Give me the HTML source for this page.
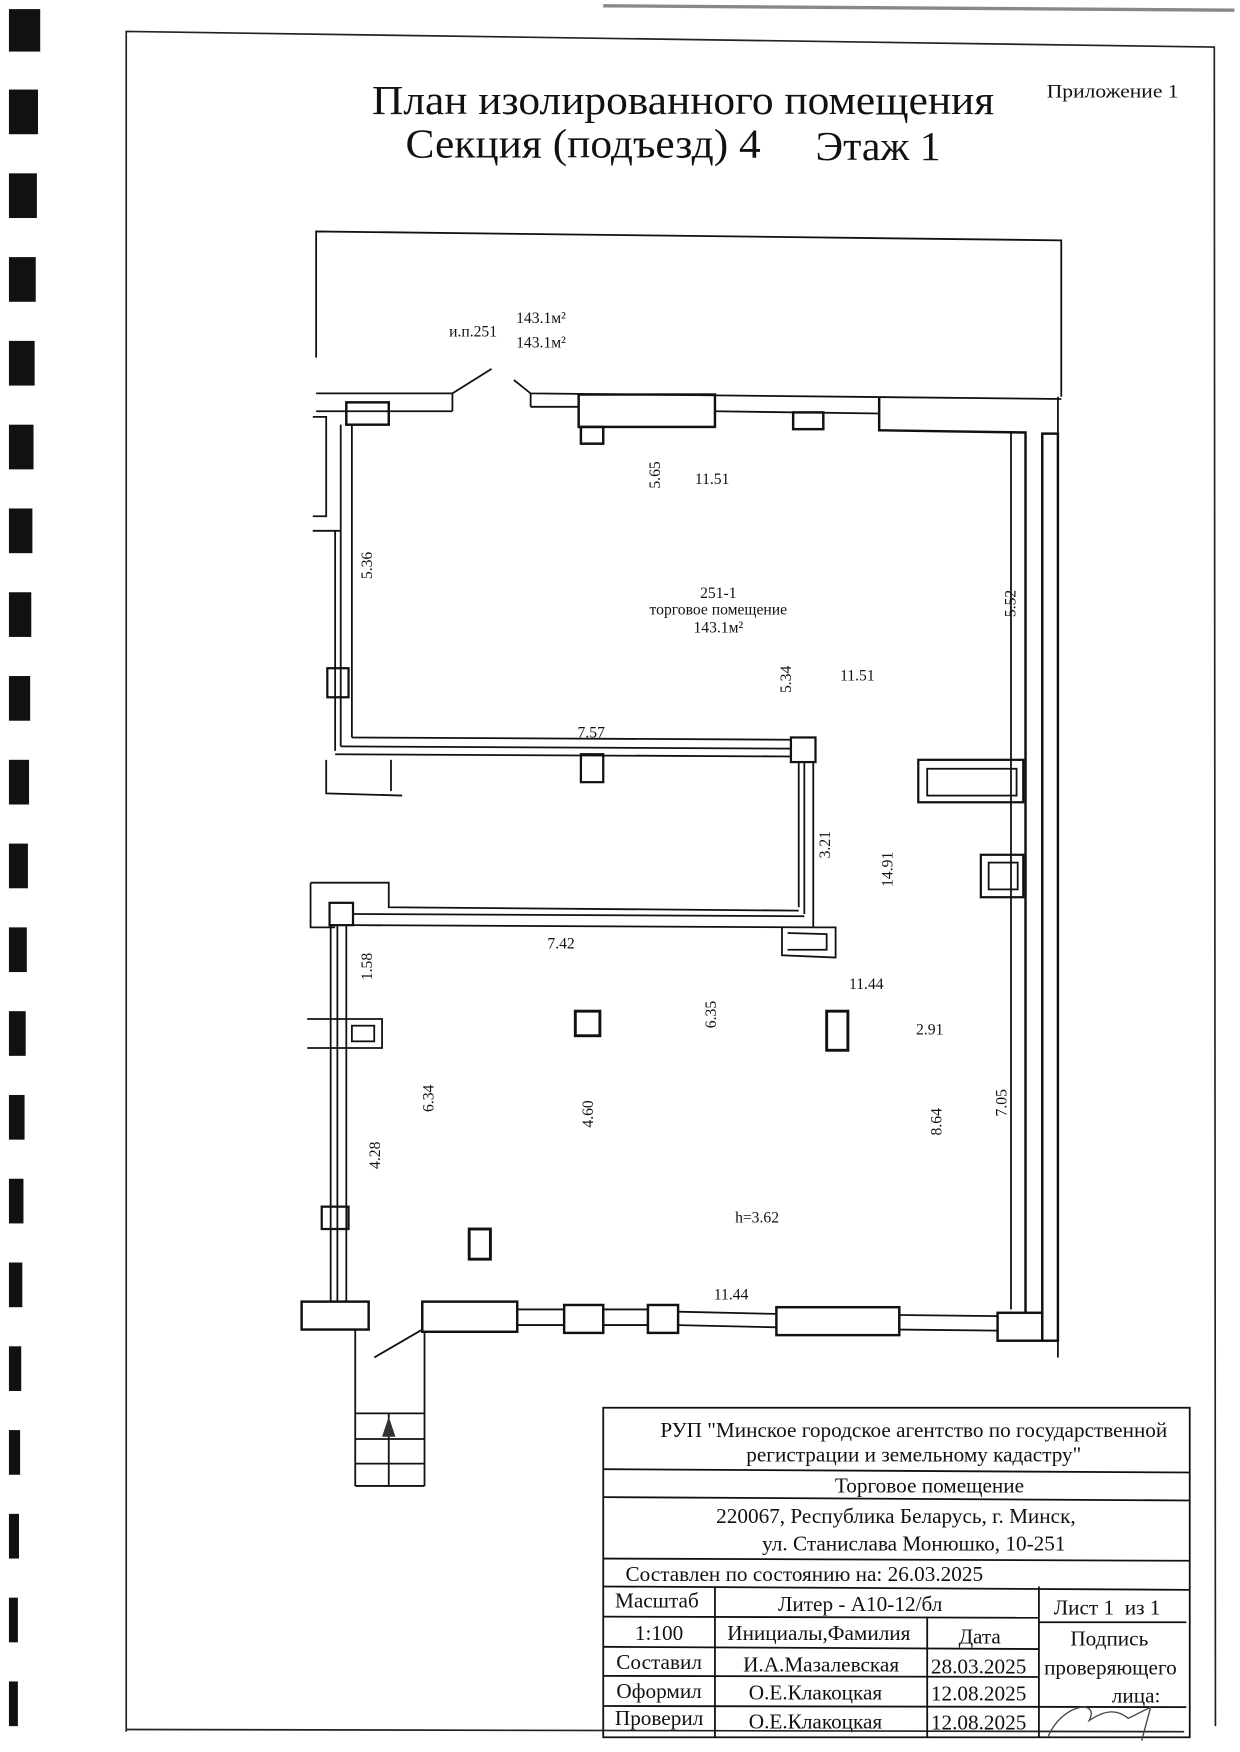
<!DOCTYPE html>
<html><head><meta charset="utf-8"><style>
html,body{margin:0;padding:0;background:#fff;}
svg{display:block;}
text{font-family:"Liberation Serif",serif;fill:#111;}
</style></head><body>
<svg width="1240" height="1752" viewBox="0 0 1110 1568" xmlns="http://www.w3.org/2000/svg">
<rect width="1110" height="1568" fill="#fff"/>
<g fill="#111">
<rect x="8" y="8" width="28" height="38"/><rect x="8" y="80" width="26" height="40"/>
<rect x="8" y="155" width="25" height="40"/><rect x="8" y="230" width="24" height="40"/>
<rect x="8" y="305" width="23" height="40"/><rect x="8" y="380" width="22" height="40"/>
<rect x="8" y="455" width="21" height="40"/><rect x="8" y="530" width="20" height="40"/>
<rect x="8" y="605" width="19" height="40"/><rect x="8" y="680" width="18" height="40"/>
<rect x="8" y="755" width="17" height="40"/><rect x="8" y="830" width="16" height="40"/>
<rect x="8" y="905" width="15" height="40"/><rect x="8" y="980" width="14" height="40"/>
<rect x="8" y="1055" width="13" height="40"/><rect x="8" y="1130" width="12" height="40"/>
<rect x="8" y="1205" width="11" height="40"/><rect x="8" y="1280" width="10" height="40"/>
<rect x="8" y="1355" width="9" height="40"/><rect x="8" y="1430" width="8" height="40"/>
<rect x="8" y="1505" width="8" height="40"/>
</g>
<line x1="540" y1="5" x2="1105" y2="9" stroke="#888" stroke-width="3"/>
<polyline points="113,1550 113,28 1087,42 1088,1545" fill="none" stroke="#222" stroke-width="1.5"/>
<line x1="113" y1="1548" x2="1060" y2="1550" stroke="#222" stroke-width="1.5"/>
<text x="333" y="102" font-size="37" textLength="557" lengthAdjust="spacingAndGlyphs">План изолированного помещения</text>
<text x="363" y="141" font-size="37" textLength="318" lengthAdjust="spacingAndGlyphs">Секция (подъезд) 4</text>
<text x="730" y="143" font-size="37" textLength="112" lengthAdjust="spacingAndGlyphs">Этаж 1</text>
<text x="937" y="87" font-size="17" textLength="118" lengthAdjust="spacingAndGlyphs">Приложение 1</text>
<g fill="none" stroke="#111" stroke-width="1.6">
<polyline points="283,320 283,207 950,215 950,355"/>
<polyline points="283,352 405,352 440,330"/>
<polyline points="460,340 475,352 950,357"/>
<line x1="283" y1="368" x2="405" y2="368"/><line x1="405" y1="352" x2="405" y2="368"/>
<line x1="475" y1="352" x2="475" y2="364"/><line x1="475" y1="364" x2="518" y2="364"/>
<line x1="640" y1="368" x2="787" y2="370"/>
<rect x="518" y="353" width="122" height="29" stroke-width="2.2"/>
<rect x="520" y="382" width="20" height="15" stroke-width="2.2"/>
<rect x="710" y="369" width="27" height="15" stroke-width="2.2"/>
<polyline points="787,356 787,385 918,387 918,1175" stroke-width="2.2"/>
<polyline points="905,387 905,1172"/>
<rect x="933" y="388" width="14" height="812" stroke-width="2.2"/>
<line x1="947" y1="355" x2="947" y2="1215"/>
<rect x="310" y="360" width="38" height="20" stroke-width="2.2"/>
<polyline points="280,373 292,373 292,462 280,462"/>
<polyline points="280,475 305,475 305,380"/>
<line x1="315" y1="380" x2="315" y2="660"/>
<line x1="300" y1="475" x2="300" y2="672"/><line x1="305" y1="475" x2="305" y2="668"/>
<rect x="293" y="598" width="19" height="26" stroke-width="2"/>
<polyline points="315,660 708,662"/><polyline points="305,668 708,670"/><polyline points="300,675 708,677"/>
<rect x="708" y="660" width="22" height="22" stroke-width="2"/>
<rect x="520" y="675" width="20" height="25" stroke-width="2"/>
<polyline points="292,680 292,710 360,712"/><line x1="350" y1="680" x2="350" y2="708"/>
<line x1="715" y1="682" x2="715" y2="812"/><line x1="720" y1="682" x2="720" y2="818"/><line x1="728" y1="682" x2="728" y2="830"/>
<polyline points="278,790 348,790 348,812 715,815"/>
<line x1="316" y1="818" x2="720" y2="820"/><line x1="316" y1="828" x2="728" y2="830"/>
<rect x="295" y="808" width="21" height="20" stroke-width="2"/>
<polyline points="700,830 700,855 748,857 748,830 728,830"/><polyline points="705,835 740,836 740,850 705,850"/>
<line x1="296" y1="828" x2="296" y2="1165"/><line x1="302" y1="828" x2="302" y2="1165"/><line x1="310" y1="828" x2="310" y2="1165"/>
<rect x="288" y="1080" width="24" height="20" stroke-width="2"/>
<polyline points="275,912 342,912 342,938 275,938"/><rect x="315" y="918" width="20" height="14"/>
<polyline points="278,790 278,830 300,830"/>
<rect x="822" y="680" width="94" height="38" stroke-width="2"/><rect x="830" y="688" width="80" height="24"/>
<rect x="878" y="765" width="38" height="38" stroke-width="2"/><rect x="885" y="772" width="26" height="24"/>
<rect x="270" y="1165" width="60" height="25" stroke-width="2.2"/>
<rect x="378" y="1165" width="85" height="27" stroke-width="2.2"/>
<rect x="505" y="1168" width="35" height="25" stroke-width="2.2"/>
<rect x="580" y="1168" width="27" height="25" stroke-width="2.2"/>
<rect x="695" y="1170" width="110" height="25" stroke-width="2.2"/>
<rect x="893" y="1175" width="40" height="25" stroke-width="2.2"/>
<line x1="463" y1="1172" x2="505" y2="1172"/><line x1="463" y1="1186" x2="505" y2="1186"/>
<line x1="540" y1="1172" x2="580" y2="1172"/><line x1="540" y1="1186" x2="580" y2="1186"/>
<line x1="607" y1="1174" x2="695" y2="1176"/><line x1="607" y1="1186" x2="695" y2="1188"/>
<line x1="805" y1="1177" x2="893" y2="1178"/><line x1="805" y1="1190" x2="893" y2="1191"/>
<line x1="378" y1="1190" x2="335" y2="1215"/>
<line x1="318" y1="1190" x2="318" y2="1330"/><line x1="380" y1="1192" x2="380" y2="1330"/>
<line x1="318" y1="1265" x2="380" y2="1265"/><line x1="318" y1="1288" x2="380" y2="1288"/>
<line x1="318" y1="1310" x2="380" y2="1310"/><line x1="318" y1="1330" x2="380" y2="1330"/>
<line x1="348" y1="1265" x2="348" y2="1330"/>
<rect x="515" y="905" width="22" height="22" stroke-width="2.6"/>
<rect x="740" y="905" width="19" height="35" stroke-width="2.6"/>
<rect x="420" y="1100" width="19" height="27" stroke-width="2.6"/>
</g>
<polygon points="348,1268 342,1286 354,1286" fill="#333"/>
<g font-size="14">
<text x="402" y="301">и.п.251</text>
<text x="462" y="289">143.1м²</text><text x="462" y="311">143.1м²</text>
<text x="643" y="535" text-anchor="middle">251-1</text>
<text x="643" y="550" text-anchor="middle">торговое помещение</text>
<text x="643" y="566" text-anchor="middle">143.1м²</text>
<text x="622" y="433">11.51</text><text x="752" y="609">11.51</text>
<text x="517" y="660">7.57</text><text x="490" y="849">7.42</text>
<text x="760" y="885">11.44</text><text x="820" y="926">2.91</text>
<text x="658" y="1094">h=3.62</text><text x="639" y="1163">11.44</text>
<text transform="translate(591,425) rotate(-90)" text-anchor="middle">5.65</text>
<text transform="translate(333,506) rotate(-90)" text-anchor="middle">5.36</text>
<text transform="translate(909,540) rotate(-90)" text-anchor="middle">5.52</text>
<text transform="translate(708,608) rotate(-90)" text-anchor="middle">5.34</text>
<text transform="translate(743,756) rotate(-90)" text-anchor="middle">3.21</text>
<text transform="translate(799,778) rotate(-90)" text-anchor="middle">14.91</text>
<text transform="translate(333,865) rotate(-90)" text-anchor="middle">1.58</text>
<text transform="translate(641,908) rotate(-90)" text-anchor="middle">6.35</text>
<text transform="translate(388,983) rotate(-90)" text-anchor="middle">6.34</text>
<text transform="translate(531,997) rotate(-90)" text-anchor="middle">4.60</text>
<text transform="translate(843,1004) rotate(-90)" text-anchor="middle">8.64</text>
<text transform="translate(901,987) rotate(-90)" text-anchor="middle">7.05</text>
<text transform="translate(340,1034) rotate(-90)" text-anchor="middle">4.28</text>
</g>
<g fill="none" stroke="#111" stroke-width="1.6">
<rect x="540" y="1260" width="525" height="295"/>
<line x1="540" y1="1315" x2="1065" y2="1318"/><line x1="540" y1="1340" x2="1065" y2="1343"/>
<line x1="540" y1="1395" x2="1065" y2="1397"/><line x1="540" y1="1420" x2="1065" y2="1423"/>
<line x1="540" y1="1447" x2="930" y2="1448"/><line x1="930" y1="1452" x2="1062" y2="1452"/>
<line x1="540" y1="1474" x2="930" y2="1476"/><line x1="540" y1="1500" x2="930" y2="1501"/>
<line x1="540" y1="1527" x2="1062" y2="1528"/>
<line x1="640" y1="1420" x2="640" y2="1555"/><line x1="830" y1="1447" x2="830" y2="1555"/>
<line x1="930" y1="1420" x2="930" y2="1555"/>
</g>
<g font-size="19" text-anchor="middle">
<text x="818" y="1286">РУП "Минское городское агентство по государственной</text>
<text x="818" y="1308">регистрации и земельному кадастру"</text>
<text x="832" y="1336">Торговое помещение</text>
<text x="802" y="1363">220067, Республика Беларусь, г. Минск,</text>
<text x="818" y="1388">ул. Станислава Монюшко, 10-251</text>
<text x="720" y="1415">Составлен по состоянию на: 26.03.2025</text>
<text x="588" y="1439">Масштаб</text><text x="770" y="1442">Литер - А10-12/бл</text><text x="991" y="1445" xml:space="preserve">Лист 1  из 1</text>
<text x="590" y="1468">1:100</text><text x="733" y="1468">Инициалы,Фамилия</text><text x="877" y="1471">Дата</text>
<text x="993" y="1473">Подпись</text><text x="994" y="1499">проверяющего</text><text x="1017" y="1524">лица:</text>
<text x="590" y="1494">Составил</text><text x="735" y="1496">И.А.Мазалевская</text><text x="876" y="1498">28.03.2025</text>
<text x="590" y="1520">Оформил</text><text x="730" y="1521">О.Е.Клакоцкая</text><text x="876" y="1522">12.08.2025</text>
<text x="590" y="1544">Проверил</text><text x="730" y="1547">О.Е.Клакоцкая</text><text x="876" y="1548">12.08.2025</text>
</g>
<path d="M938,1555 C950,1525 985,1520 975,1540 C990,1530 1000,1530 1010,1538 L1030,1528 L1022,1558" fill="none" stroke="#444" stroke-width="1.2"/>
</svg>
</body></html>
